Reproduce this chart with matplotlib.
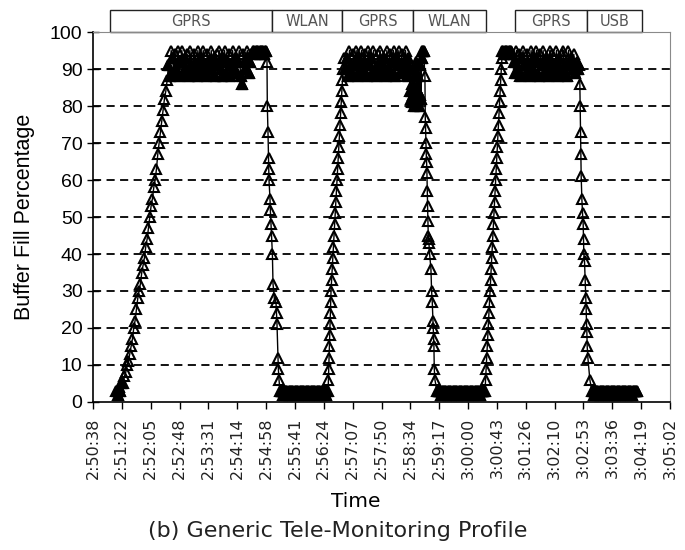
"""Buffer fill percentage over time — generic tele-monitoring profile (b)."""

import matplotlib
matplotlib.use("Agg")
import matplotlib.pyplot as plt
import matplotlib.transforms as mtransforms
from matplotlib.patches import Rectangle
import numpy as np

# time axis: seconds after 2:50:38, ticks every 43.2 s
tick_labels = ["2:50:38", "2:51:22", "2:52:05", "2:52:48", "2:53:31", "2:54:14", "2:54:58",
               "2:55:41", "2:56:24", "2:57:07", "2:57:50", "2:58:34", "2:59:17", "3:00:00",
               "3:00:43", "3:01:26", "3:02:10", "3:02:53", "3:03:36", "3:04:19", "3:05:02"]
TICK_STEP = 43.2

# active bearer over time (seconds)
net_labels = ["GPRS", "WLAN", "GPRS", "WLAN", "GPRS", "USB"]
net_start = [24.9, 268.2, 372.6, 479.5, 631.9, 739.3]
net_end = [268.2, 372.6, 479.5, 589.1, 739.3, 821.6]

# --- buffer samples, phase by phase ---
start1_t = [35, 37, 39, 41, 43]
start1_v = [3, 2, 4, 3, 5]

ramp1_t = [45, 47, 49, 51, 53, 55, 57, 59, 61, 63, 65, 67, 69, 71, 73,
           75, 77, 79, 81, 83, 85, 87, 89, 91, 93, 95, 97, 99, 101, 103, 105, 107, 109, 111]
ramp1_v = [5, 7, 8, 10, 11, 13, 15, 17, 20, 22, 25, 28, 30, 32, 35,
           37, 39, 42, 44, 47, 50, 53, 55, 58, 60, 63, 67, 70, 73, 76, 79, 82, 84, 87]

hold1_t = [113, 115, 117, 119, 121, 123, 125, 127, 129, 131, 133, 135, 137, 139, 141, 143,
           145, 147, 149, 151, 153, 155, 157, 159, 161, 163, 165, 167, 169, 171, 173, 175,
           177, 179, 181, 183, 185, 187, 189, 191, 193, 195, 197, 199, 201, 203, 205, 207,
           209, 211, 213, 215, 217, 219, 221, 223, 225, 227, 229, 231, 233, 235, 237]
hold1_v = [91, 88, 95, 93, 89, 94, 90, 95, 88, 92, 95, 89, 93, 90, 94, 88, 95, 91, 89, 94,
           92, 88, 95, 90, 93, 89, 95, 91, 88, 94, 92, 90, 95, 89, 93, 88, 94, 91, 95, 90,
           88, 93, 95, 89, 92, 94, 88, 91, 95, 90, 93, 89, 92, 95, 88, 86, 94, 90, 93, 95,
           89, 92, 94]

flat1_t = [239, 240.5, 242, 243.5, 245, 246.5, 248, 249.5, 251, 252.5, 254, 255.5, 257, 258.5]
flat1_v = [95, 95, 94, 95, 95, 95, 94, 95, 95, 95, 95, 94, 95, 95]

drain1_t = [260.5, 261, 262, 262.8, 263.2, 263.5, 265, 265.5, 266.5, 267.3, 268.6, 269.5,
            271.5, 274, 274.8, 275.5, 277, 277.5, 278.5]
drain1_v = [92, 80, 73, 66, 63, 60, 55, 52, 48, 45, 40, 32, 28, 27, 24, 21, 12, 9, 6]

empty1_t = [280, 281.5, 283, 284.5, 286, 287.5, 289, 290.5, 292, 293.5, 295, 296.5, 298,
            299.5, 301, 302.5, 304, 305.5, 307, 308.5, 310, 311.5, 313, 314.5, 316, 317.5,
            319, 320.5, 322, 323.5, 325, 326.5, 328, 329.5, 331, 332.5, 334, 335.5, 337,
            338.5, 340, 341.5, 343, 344.5, 346, 347.5, 349, 350.5]
empty1_v = [3, 3, 3, 2, 3, 3, 3, 3, 2, 3, 3, 3, 3, 3, 2, 3, 3, 3, 3, 2, 3, 3, 3, 3, 3,
            2, 3, 3, 3, 3, 2, 3, 3, 3, 3, 3, 2, 3, 3, 3, 3, 2, 3, 3, 3, 3, 2, 3]

ramp2_t = [352, 352.5, 353, 353.5, 354, 354.5, 355, 355.5, 356, 356.4, 357.3, 358.2, 359.1,
           360, 360.9, 361.8, 362.7, 363.6, 364.5, 365.4, 366.3, 367.2, 368.1, 369, 369.9,
           370.8, 371.7, 372.6, 373.5, 374.4, 375.6]
ramp2_v = [3, 6, 9, 12, 15, 18, 21, 24, 27, 30, 33, 36, 39, 42, 45, 48, 51, 54, 57, 60,
           63, 66, 69, 72, 75, 78, 81, 84, 87, 90, 93]

hold2_t = [378, 380, 382, 384, 386, 388, 390, 392, 394, 396, 398, 400, 402, 404, 406, 408,
           410, 412, 414, 416, 418, 420, 422, 424, 426, 428, 430, 432, 434, 436, 438, 440,
           442, 444, 446, 448, 450, 452, 454, 456, 458, 460, 462, 464, 466, 468, 470, 472,
           474, 475, 476, 477, 478, 479, 480, 481, 482, 483, 484, 485, 486, 487, 488, 489,
           490, 491]
hold2_v = [90, 93, 88, 95, 91, 89, 94, 92, 95, 88, 93, 90, 95, 89, 92, 94, 88, 95, 91, 93,
           89, 95, 90, 88, 94, 92, 95, 89, 91, 93, 88, 95, 90, 94, 89, 92, 95, 88, 93, 91,
           95, 89, 94, 90, 92, 95, 88, 93,
           90, 84, 82, 86, 81, 83, 89, 80, 85, 82, 92, 81, 84, 88, 80, 83, 91, 82]

flat2_t = [492, 493, 494, 495]
flat2_v = [93, 95, 95, 95]

drain2_t = [497, 497.5, 498, 498.5, 499, 499.5, 500, 500.5, 501, 501.5, 502, 502.5, 503,
            504, 506, 507, 508, 509, 509.5, 510, 510.5, 511, 512]
drain2_v = [88, 77, 74, 70, 67, 65, 62, 57, 53, 49, 45, 44, 43, 40, 36, 30, 27, 22, 20, 17,
            15, 9, 6]

empty2_t = [515, 516.5, 518, 519.5, 521, 522.5, 524, 525.5, 527, 528.5, 530, 531.5, 533,
            534.5, 536, 537.5, 539, 540.5, 542, 543.5, 545, 546.5, 548, 549.5, 551, 552.5,
            554, 555.5, 557, 558.5, 560, 561.5, 563, 564.5, 566, 567.5, 569, 570.5, 572,
            573.5, 575, 576.5, 578, 579.5, 581, 582.5, 584, 585.5]
empty2_v = [3, 3, 3, 3, 2, 3, 3, 3, 3, 3, 2, 3, 3, 3, 3, 2, 3, 3, 3, 3, 3, 2, 3, 3, 3,
            3, 2, 3, 3, 3, 3, 3, 2, 3, 3, 3, 3, 2, 3, 3, 3, 3, 3, 2, 3, 3, 3, 3]

ramp3_t = [587, 587.8, 588.7, 589.5, 590.4, 591.2, 592, 592.9, 593.7, 594.6, 595.4, 596.2,
           597.1, 597.9, 598.8, 599.6, 600.4, 601.3, 602.1, 603, 603.8, 604.6, 605.5, 606.3,
           607.2, 608, 608.8, 609.7, 610.5, 611.4, 612.2]
ramp3_v = [3, 6, 9, 12, 15, 18, 21, 24, 27, 30, 33, 36, 39, 42, 45, 48, 51, 54, 57, 60,
           63, 66, 69, 72, 75, 78, 81, 84, 87, 90, 93]

flat3_t = [613, 614.5, 616, 617.5, 619, 620.5, 622, 623.5, 625, 626.5, 628]
flat3_v = [95, 95, 94, 95, 95, 95, 94, 95, 95, 95, 94]

hold3_t = [630, 632, 634, 636, 638, 640, 642, 644, 646, 648, 650, 652, 654, 656, 658, 660,
           662, 664, 666, 668, 670, 672, 674, 676, 678, 680, 682, 684, 686, 688, 690, 692,
           694, 696, 698, 700, 702, 704, 706, 708, 710, 712, 714, 716, 718, 720, 722, 724, 726]
hold3_v = [92, 89, 95, 90, 94, 88, 93, 95, 91, 89, 94, 92, 88, 95, 90, 93, 89, 95, 92, 88,
           94, 91, 95, 89, 93, 90, 88, 95, 92, 94, 89, 91, 95, 88, 93, 90, 94, 95, 89, 92,
           88, 95, 91, 93, 90, 94, 89, 92, 90]

drain3_t = [728, 729, 729.5, 730, 730.5, 731, 732, 733, 734, 734.5, 735, 736, 737, 738,
            738.5, 739, 739.5, 740, 741, 744]
drain3_v = [91, 86, 80, 73, 67, 61, 55, 51, 48, 44, 40, 38, 33, 28, 25, 21, 19, 15, 12, 6]

empty3_t = [747, 748.5, 750, 751.5, 753, 754.5, 756, 757.5, 759, 760.5, 762, 763.5, 765,
            766.5, 768, 769.5, 771, 772.5, 774, 775.5, 777, 778.5, 780, 781.5, 783, 784.5,
            786, 787.5, 789, 790.5, 792, 793.5, 795, 796.5, 798, 799.5, 801, 802.5, 804,
            805.5, 807, 808.5, 810, 811.5, 813, 814.5]
empty3_v = [3, 3, 2, 3, 3, 3, 3, 2, 3, 3, 3, 3, 3, 2, 3, 3, 3, 3, 2, 3, 3, 3, 3, 3, 2,
            3, 3, 3, 3, 2, 3, 3, 3, 3, 3, 2, 3, 3, 3, 3, 2, 3, 3, 3, 3, 3]

# (name, times, values, how the cluster reads in print)
SEGMENTS = [
    ("start1", start1_t, start1_v, "solid"),
    ("ramp1", ramp1_t, ramp1_v, "open"),
    ("hold1", hold1_t, hold1_v, "band"),
    ("flat1", flat1_t, flat1_v, "solid"),
    ("drain1", drain1_t, drain1_v, "open"),
    ("empty1", empty1_t, empty1_v, "solid"),
    ("ramp2", ramp2_t, ramp2_v, "open"),
    ("hold2", hold2_t, hold2_v, "band"),
    ("flat2", flat2_t, flat2_v, "solid"),
    ("drain2", drain2_t, drain2_v, "open"),
    ("empty2", empty2_t, empty2_v, "solid"),
    ("ramp3", ramp3_t, ramp3_v, "open"),
    ("flat3", flat3_t, flat3_v, "solid"),
    ("hold3", hold3_t, hold3_v, "band"),
    ("drain3", drain3_t, drain3_v, "open"),
    ("empty3", empty3_t, empty3_v, "solid"),
]


def main() -> None:
    t = np.concatenate([s[1] for s in SEGMENTS]).astype(float)
    v = np.concatenate([s[2] for s in SEGMENTS]).astype(float)
    # dense clusters print as solid black in the original figure
    solid = np.concatenate([
        np.full(len(s[1]), s[3] == "solid") if s[3] != "band"
        else np.asarray(s[2]) <= 93
        for s in SEGMENTS
    ])

    fig = plt.figure(figsize=(6.85, 5.5), dpi=100)
    ax = fig.add_axes([0.1358, 0.2691, 0.8423, 0.6727])

    ax.plot(t, v, color="black", lw=1.0, marker="^", ms=7.5, mfc="none", mec="black",
            mew=1.5, zorder=3)
    ax.plot(t[solid], v[solid], ls="none", marker="^", ms=7.5, mfc="black", mec="black",
            mew=1.0, zorder=4)

    ticks = np.arange(len(tick_labels)) * TICK_STEP
    ax.set_xlim(ticks[0], ticks[-1])
    ax.set_ylim(0, 100)
    ax.set_xticks(ticks)
    ax.set_xticklabels(tick_labels, rotation=90, fontsize=11.5, color="#222222",
                       family="DejaVu Sans")
    ax.set_yticks(range(0, 101, 10))
    ax.set_yticklabels([str(y) for y in range(0, 101, 10)], fontsize=14,
                       family="Liberation Sans")
    ax.tick_params(axis="x", direction="out", length=5, width=1.0, pad=6)
    ax.tick_params(axis="y", direction="inout", length=9, width=1.0, pad=3)

    for y in range(10, 100, 10):
        ax.axhline(y, color="black", lw=1.3, ls=(0, (4.5, 3)), zorder=1)

    for side in ("left", "bottom"):
        ax.spines[side].set_color("black")
        ax.spines[side].set_linewidth(1.2)
    for side in ("top", "right"):
        ax.spines[side].set_color("#8a8a8a")
        ax.spines[side].set_linewidth(0.8)

    ax.set_xlabel("Time", fontsize=14.5, family="DejaVu Sans", va="center")
    ax.xaxis.set_label_coords(0.456, -0.268)
    ax.set_ylabel("Buffer Fill Percentage", fontsize=15.5, family="Liberation Sans",
                  va="center")
    ax.yaxis.set_label_coords(-0.118, 0.5)

    # bearer boxes above the plot
    trans = mtransforms.blended_transform_factory(ax.transData, ax.transAxes)
    for lab, x0, x1 in zip(net_labels, net_start, net_end):
        ax.add_patch(Rectangle((x0, 1.0), x1 - x0, 0.0595, transform=trans,
                               facecolor="white", edgecolor="#222222", lw=1.0,
                               clip_on=False))
        ax.text((x0 + x1) / 2, 1.0 + 0.0595 / 2, lab, transform=trans, ha="center",
                va="center", fontsize=10.5, color="#555555", family="DejaVu Sans")

    fig.text(0.4927, 0.0345, "(b) Generic Tele-Monitoring Profile", ha="center",
             va="center", fontsize=16, color="#222222", family="DejaVu Sans")

    fig.savefig("out.png", dpi=100)


if __name__ == "__main__":
    main()
